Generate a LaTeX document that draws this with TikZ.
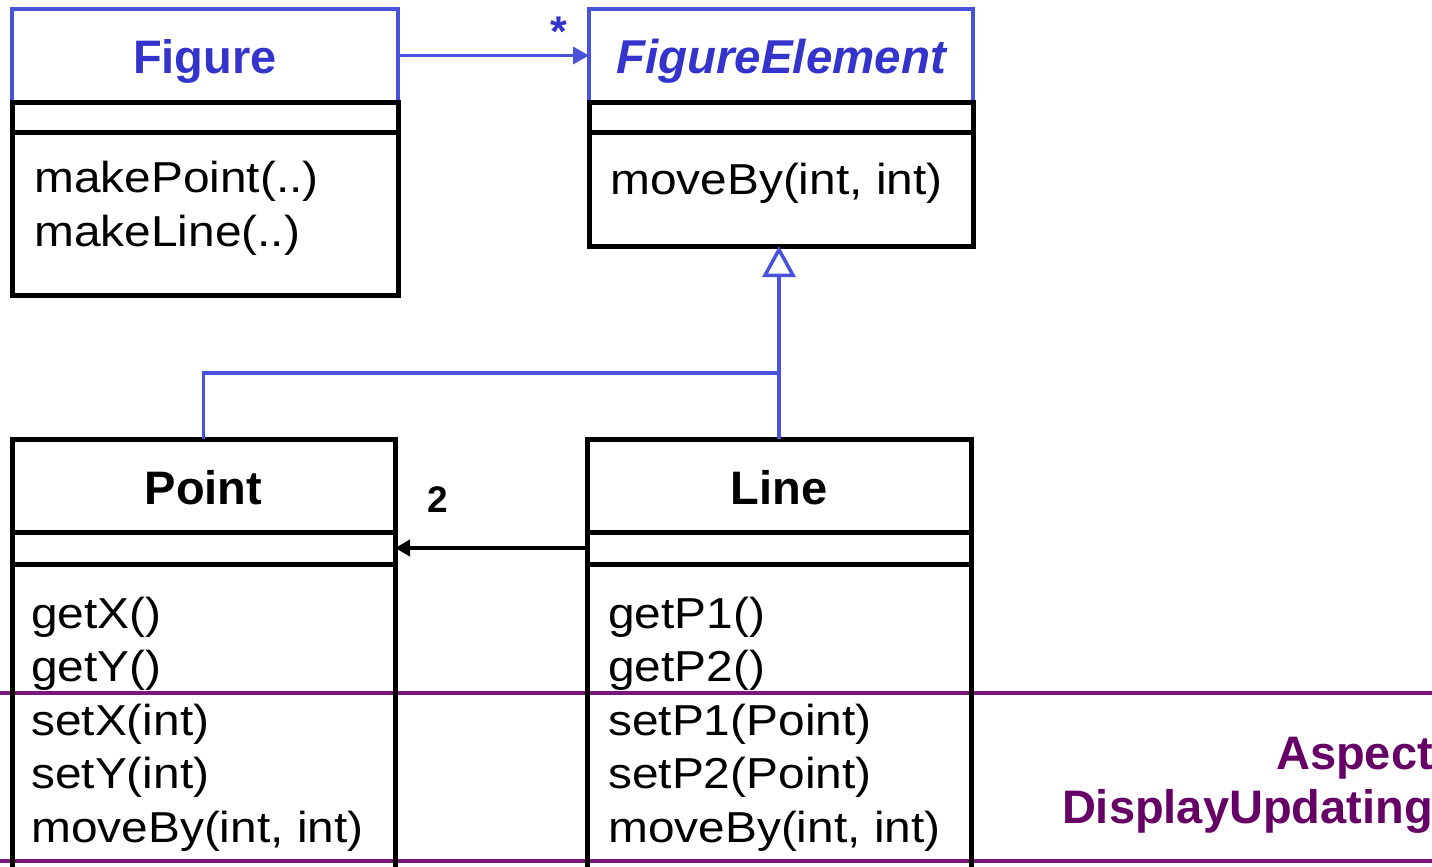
\documentclass[tikz,border=0pt]{standalone}
\usepackage{fontspec}
\setmainfont{Liberation Sans}
\newfontfamily\opsfont{Liberation Sans}[FakeStretch=1.105]
\usepackage{tikz}
\usetikzlibrary{shapes,arrows.meta,positioning}
\definecolor{umlblue}{RGB}{72,82,218}
\definecolor{umltext}{RGB}{52,52,204}
\definecolor{aspectline}{RGB}{124,22,122}
\definecolor{aspecttext}{RGB}{102,0,102}
\tikzstyle{head} = [rectangle, draw, line width=5pt, minimum width=384pt, minimum height=93pt,
    inner sep=0pt, outer sep=0pt, text height=48pt, text depth=11pt, font=\bfseries\fontsize{47}{50}\selectfont]
\tikzstyle{bluehead} = [head, draw=umlblue, line width=4pt, text=umltext]
\tikzstyle{part} = [rectangle, draw, line width=5pt, minimum width=384pt, inner sep=0pt, outer sep=0pt]
\tikzstyle{ops} = [anchor=base west, align=left, inner sep=0pt, font=\opsfont\fontsize{43.3}{53.5}\selectfont]
\tikzstyle{line} = [draw, line width=4pt, -{Triangle[length=15pt, width=16pt]}]
\tikzstyle{blueline} = [draw, umlblue, line width=3.5pt, -{Triangle[length=16pt, width=17pt]}]
\tikzstyle{inherit} = [draw, umlblue, line width=3.5pt, -{Triangle[open, length=31pt, width=33pt, fill=white]}]
\tikzstyle{band} = [draw, aspectline, line width=4pt]

\begin{document}
\begin{tikzpicture}[x=1pt, y=-1pt]
    \useasboundingbox (0,0) rectangle (1432,867);
    \clip (0,0) rectangle (1432,867);
    % Aspect bands
    \path [band] (0,693) -- (1432,693);
    \path [band] (0,861) -- (1432,861);

    % Place nodes
    \node [bluehead, anchor=north west, minimum width=386pt] (figure) at (12,9) {Figure};
    \node [part, below=0pt of figure, minimum width=386pt, minimum height=30pt] (figattr) {};
    \node [part, below=0pt of figattr, minimum width=386pt, minimum height=163pt] (figops) {};
    \node [ops] (figtext) at ([xshift=22pt, yshift=-114pt] figops.north west) {makePoint(..)\\makeLine(..)};

    \node [bluehead, anchor=north west, font=\bfseries\itshape\fontsize{47.5}{50}\selectfont] (elem) at (589,9) {FigureElement};
    \node [part, below=0pt of elem, minimum height=30pt] (elemattr) {};
    \node [part, below=0pt of elemattr, minimum height=114pt] (elemops) {};
    \node [ops] (elemtext) at ([xshift=21pt, yshift=-62pt] elemops.north west) {moveBy(int, int)};

    \node [head, anchor=north west, minimum width=383pt] (point) at (12,439) {Point};
    \node [part, below=0pt of point, minimum width=383pt, minimum height=32pt] (pointattr) {};
    \node [part, below=0pt of pointattr, minimum width=383pt, minimum height=340pt] (pointops) {};
    \node [ops] (pointtext) at ([xshift=19pt, yshift=-278pt] pointops.north west) {getX()\\getY()\\setX(int)\\setY(int)\\moveBy(int, int)};

    \node [head, anchor=north west] (line) at (587,439) {Line};
    \node [part, below=0pt of line, minimum height=32pt] (lineattr) {};
    \node [part, below=0pt of lineattr, minimum height=340pt] (lineops) {};
    \node [ops] (linetext) at ([xshift=21pt, yshift=-278pt] lineops.north west) {getP1()\\getP2()\\setP1(Point)\\setP2(Point)\\moveBy(int, int)};

    \node [anchor=base east, align=right, inner sep=0pt, text=aspecttext,
        font=\bfseries\fontsize{47}{54}\selectfont] (aspect) at (1433,823) {Aspect\\DisplayUpdating};

    % Draw edges
    \coordinate (join) at (line.north |- 0,373);
    \path [blueline] (figure) -- (elem);
    \node [anchor=base, inner sep=0pt, text=umltext, font=\bfseries\fontsize{43}{46}\selectfont]
        (many) at ([xshift=-30pt, yshift=9pt] elem.west) {*};
    \path [inherit] (line.north) -- (line.north |- elemops.south);
    \draw [umlblue, line width=3.5pt] (point.north) |- (join);
    \path [line] (lineattr) -- (pointattr);
    \node [anchor=base, inner sep=0pt, font=\bfseries\fontsize{37}{40}\selectfont]
        (two) at ([xshift=43pt, yshift=36pt] pointattr.east) {2};
\end{tikzpicture}
\end{document}
